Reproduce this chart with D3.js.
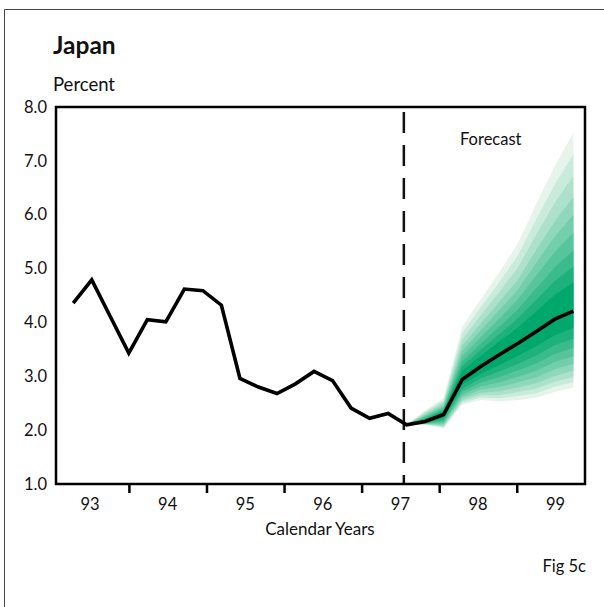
<!DOCTYPE html>
<html><head><meta charset="utf-8">
<script src="https://cdn.jsdelivr.net/npm/d3@7"></script>
<style>body{margin:0;background:#fff}svg{display:block}text{font-family:Lato,"Open Sans",sans-serif;fill:#111}</style>
</head><body><svg id="c" width="604" height="607"></svg>
<script>
// ---- data ----
const yearLabels = ["93","94","95","96","97","98","99"];
const yearStarts = [1993,1994,1995,1996,1997,1998,1999];
const yTickValues = [1,2,3,4,5,6,7,8];
// quarterly inflation, history (quarter index 0..18)
const history = [4.36,4.79,4.11,3.43,4.05,4.01,4.62,4.59,4.32,2.96,2.80,2.68,2.86,3.09,2.92,2.41,2.22,2.31,2.10];
// central projection (quarter index 18..27)
const forecast = [2.10,2.16,2.29,2.94,3.18,3.40,3.61,3.83,4.06,4.21];
// outer edges of the fan (quarter index 18..27)
const fanUpper = [2.10,2.37,2.60,3.92,4.43,4.93,5.46,6.20,6.90,7.52];
const fanLower = [2.10,2.10,2.03,2.47,2.56,2.53,2.56,2.60,2.71,2.79];
// share of the distance centre->outer edge reached by each band edge (inner to outer)
const bandShareUp   = [0.16,0.25,0.34,0.44,0.54,0.64,0.76,0.88,1.00];
const bandShareDown = [0.22,0.36,0.48,0.59,0.69,0.78,0.86,0.93,1.00];
const forecastStartQ = 17.85;

const svg = d3.select("#c");
const L = 56, R = 585, T = 107, B = 484;

const xq = d3.scaleLinear().domain([-0.93, 27.63]).range([L, R]);
const xy = d3.scaleLinear().domain([1993.06, 1999.88]).range([L, R]);
const y = d3.scaleLinear().domain([1, 8]).range([B, T]);

// outer frame (partial, as in the scan)
svg.append("line").attr("x1",4.5).attr("y1",9.5).attr("x2",604).attr("y2",9.5).attr("stroke","#444").attr("stroke-width",1);
svg.append("line").attr("x1",4.5).attr("y1",9.5).attr("x2",4.5).attr("y2",607).attr("stroke","#444").attr("stroke-width",1);

// titles
svg.append("text").attr("x",53).attr("y",54).attr("font-size",24.5).attr("font-weight",700).text("Japan");
svg.append("text").attr("x",53).attr("y",91).attr("font-size",18.5).text("Percent");

// fan
const fq = forecast.map((d,i)=>18+i);
const col = d3.interpolateRgb("#e6f4ec", "#00a86b");
const nb = bandShareUp.length;
for (let k = nb-1; k >= 0; k--) {
  const pts = forecast.map((c,i)=>({q:fq[i],
    hi: c + bandShareUp[k]*(fanUpper[i]-c),
    lo: c - bandShareDown[k]*(c-fanLower[i])}));
  svg.append("path").datum(pts)
    .attr("d", d3.area().x(d=>xq(d.q)).y0(d=>y(d.lo)).y1(d=>y(d.hi)))
    .attr("fill", col((nb-1-k)/(nb-1)));
}

// dashed forecast divider
svg.append("line").attr("x1",xq(forecastStartQ)).attr("x2",xq(forecastStartQ))
  .attr("y1",T+5).attr("y2",B).attr("stroke","#111").attr("stroke-width",2.5)
  .attr("stroke-dasharray","21,12");

// lines
const line = d3.line().x(d=>xq(d.q)).y(d=>y(d.v));
const all = history.map((v,i)=>({q:i,v})).concat(forecast.slice(1).map((v,i)=>({q:19+i,v})));
svg.append("path").datum(all).attr("d",line).attr("fill","none")
  .attr("stroke","#000").attr("stroke-width",3.6).attr("stroke-linejoin","miter");

// plot frame
svg.append("rect").attr("x",L).attr("y",T).attr("width",R-L).attr("height",B-T)
  .attr("fill","none").attr("stroke","#000").attr("stroke-width",2.5);

// x axis ticks (year boundaries)
const xa = svg.append("g").attr("transform",`translate(0,${B})`)
  .call(d3.axisBottom(xy).tickValues(yearStarts.slice(1)).tickSize(9).tickFormat(""));
xa.select(".domain").remove();
xa.selectAll(".tick line").attr("stroke","#000").attr("stroke-width",2.5);
svg.selectAll(".xlab").data(yearLabels).enter().append("text")
  .attr("x",(d,i)=>xy(yearStarts[i]+0.5)).attr("y",510).attr("text-anchor","middle")
  .attr("font-size",16.5).text(d=>d);

// y axis labels
const ya = svg.append("g").attr("transform",`translate(${L},0)`)
  .call(d3.axisLeft(y).tickValues(yTickValues).tickSize(0).tickPadding(9).tickFormat(d3.format(".1f")));
ya.select(".domain").remove();
ya.selectAll("text").attr("font-size",16.5).attr("font-family","Lato,'Open Sans',sans-serif").attr("fill","#111");

svg.append("text").attr("x",320).attr("y",535).attr("text-anchor","middle").attr("font-size",17).text("Calendar Years");
svg.append("text").attr("x",460).attr("y",145).attr("font-size",16.5).text("Forecast");
svg.append("text").attr("x",586).attr("y",572).attr("text-anchor","end").attr("font-size",16.5).text("Fig 5c");
</script></body></html>
